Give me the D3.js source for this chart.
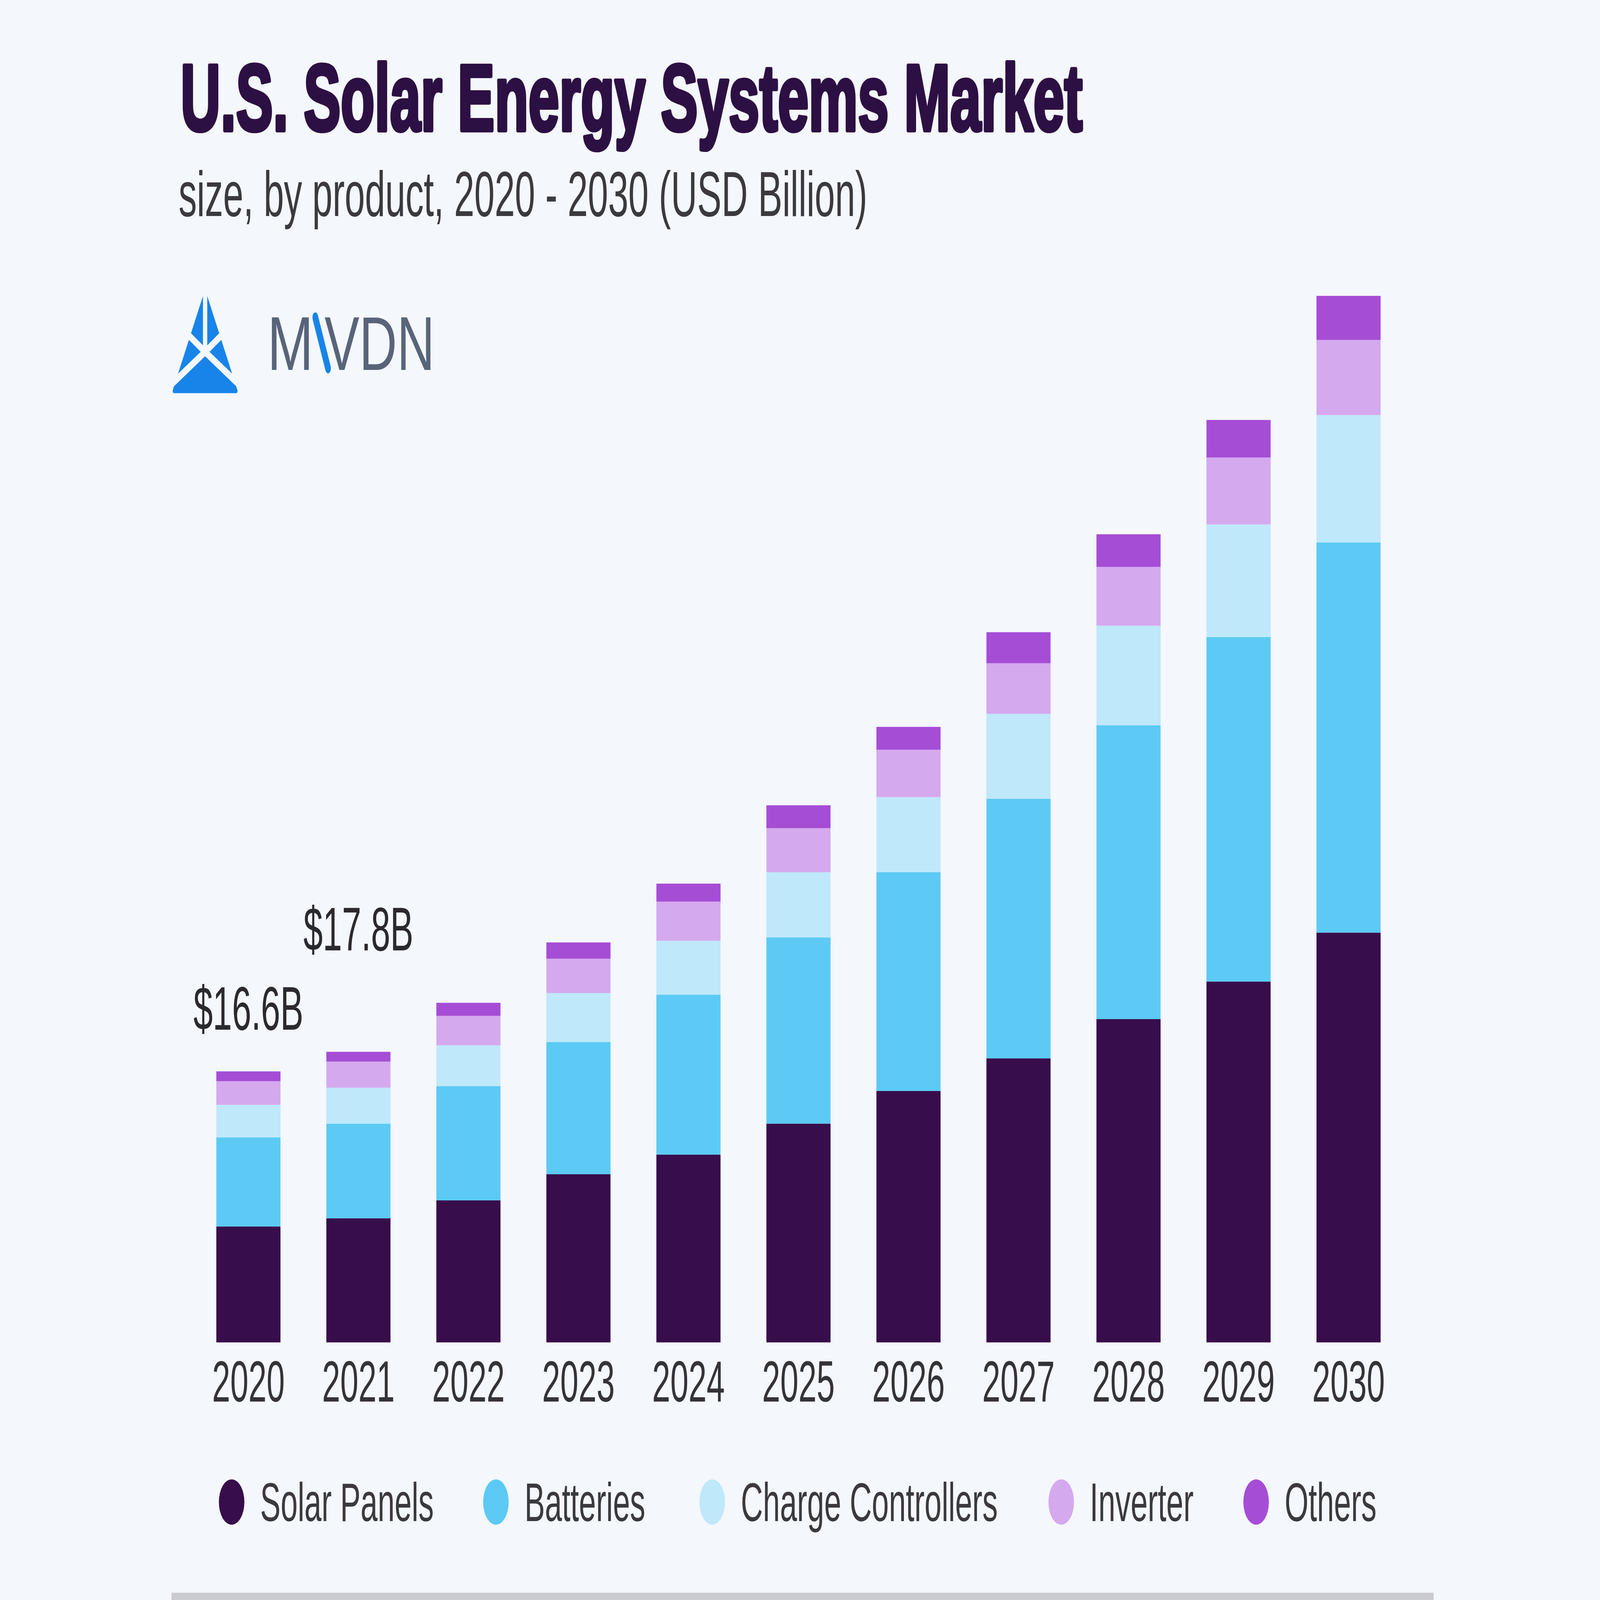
<!DOCTYPE html>
<html>
<head>
<meta charset="utf-8">
<script src="https://cdn.jsdelivr.net/npm/d3@7"></script>
<style>
  html, body { margin: 0; padding: 0; width: 100%; height: 100%; background: #f4f7fc; overflow: hidden; }
  #chart { width: 100vw; height: 100vh; }
  svg { display: block; }
</style>
</head>
<body>
<div id="chart"></div>
<script>
// values, USD billion
const years = ['2020', '2021', '2022', '2023', '2024', '2025', '2026', '2027', '2028', '2029', '2030'];
const products = ['Solar Panels', 'Batteries', 'Charge Controllers', 'Inverter', 'Others'];
const solarPanels = [7.1, 7.6, 8.7, 10.3, 11.5, 13.4, 15.4, 17.4, 19.8, 22.1, 25.1];
const batteries = [5.45, 5.8, 7.0, 8.1, 9.8, 11.4, 13.4, 15.9, 18.0, 21.1, 23.9];
const chargeControllers = [2.0, 2.2, 2.5, 3.0, 3.3, 4.0, 4.6, 5.2, 6.1, 6.9, 7.8];
const inverter = [1.45, 1.6, 1.8, 2.1, 2.4, 2.7, 2.9, 3.1, 3.6, 4.1, 4.6];
const others = [0.6, 0.6, 0.8, 1.0, 1.1, 1.4, 1.4, 1.9, 2.0, 2.3, 2.7];
const productColors = ['#380d4b', '#5ccaf4', '#bfe8fa', '#d5a9ee', '#a64dd6'];
const callouts = [{ year: '2020', text: '$16.6B', lift: 23 }, { year: '2021', text: '$17.8B', lift: 56 }];

const W = 1568, H = 882;
const bg = '#f4f7fc';
const svg = d3.select('#chart').append('svg')
    .attr('width', '100%')
    .attr('height', '100%')
    .attr('viewBox', `0 0 ${W} ${H}`)
    .attr('preserveAspectRatio', 'none');

svg.append('rect').attr('width', W).attr('height', H).attr('fill', bg);
// card shadow at the bottom
svg.append('rect').attr('x', 168).attr('y', 878).attr('width', 1237).attr('height', 4).attr('fill', '#cacbd0');

const font = "'Liberation Sans', Arial, sans-serif";

svg.append('text')
    .attr('x', 177).attr('y', 72)
    .attr('font-family', font).attr('font-weight', 900).attr('font-size', 52)
    .attr('fill', '#2d1043').attr('stroke', '#2d1043').attr('stroke-width', 2.2)
    .attr('stroke-linejoin', 'round')
    .attr('textLength', 884).attr('lengthAdjust', 'spacingAndGlyphs')
    .text('U.S. Solar Energy Systems Market');

svg.append('text')
    .attr('x', 175).attr('y', 119)
    .attr('font-family', font).attr('font-size', 35)
    .attr('fill', '#3a3a3e')
    .attr('textLength', 675).attr('lengthAdjust', 'spacingAndGlyphs')
    .text('size, by product, 2020 - 2030 (USD Billion)');

// logo: blue triangle split by five spokes, then the word mark
let logo = svg.append('g');
logo.append('path')
    .attr('d', 'M201,162 L231.5,215.5 L170.5,215.5 Z')
    .attr('fill', '#1884e9').attr('stroke', '#1884e9')
    .attr('stroke-width', 2.5).attr('stroke-linejoin', 'round');
logo.append('path')
    .attr('d', 'M201,194 L201,156 M201,194 L180,182 M201,194 L222,182 M201,194 L166,213 M201,194 L236,213')
    .attr('stroke', bg).attr('stroke-width', 4.2).attr('stroke-linecap', 'round');
logo.append('text')
    .attr('x', 262).attr('y', 204)
    .attr('font-family', font).attr('font-size', 42)
    .attr('fill', '#586479')
    .attr('textLength', 45).attr('lengthAdjust', 'spacingAndGlyphs')
    .text('M');
logo.append('path').attr('d', 'M309,175 L321.5,203').attr('stroke', '#1884e9').attr('stroke-width', 5.6).attr('stroke-linecap', 'round');
logo.append('text')
    .attr('x', 318).attr('y', 204)
    .attr('font-family', font).attr('font-size', 42)
    .attr('fill', '#586479')
    .attr('textLength', 108).attr('lengthAdjust', 'spacingAndGlyphs')
    .text('VDN');

// stacked bars
const table = years.map((y, i) => ({
    year: y,
    'Solar Panels': solarPanels[i],
    'Batteries': batteries[i],
    'Charge Controllers': chargeControllers[i],
    'Inverter': inverter[i],
    'Others': others[i]
}));
const stacked = d3.stack().keys(products)(table);

const x = d3.scaleBand().domain(years).range([212, 1353]).paddingInner(0.417).paddingOuter(0);
const y = d3.scaleLinear().domain([0, 70]).range([740, 110]);
const color = d3.scaleOrdinal().domain(products).range(productColors);

svg.append('g').selectAll('g')
    .data(stacked)
    .enter().append('g')
    .attr('fill', d => color(d.key))
    .selectAll('rect')
    .data(d => d)
    .enter().append('rect')
    .attr('x', d => x(d.data.year))
    .attr('y', d => y(d[1]))
    .attr('width', x.bandwidth())
    .attr('height', d => y(d[0]) - y(d[1]));

// year axis
const xAxis = svg.append('g')
    .attr('transform', 'translate(0,740)')
    .call(d3.axisBottom(x).tickSize(0).tickPadding(10));
xAxis.select('.domain').remove();
xAxis.selectAll('text')
    .attr('font-family', font).attr('font-size', 32)
    .attr('fill', '#333338')
    .attr('dy', '0.71em')
    .attr('y', 10);

// value callouts
const totals = table.map(d => d3.sum(products, k => d[k]));
svg.append('g').selectAll('text')
    .data(callouts)
    .enter().append('text')
    .attr('x', d => x(d.year) + x.bandwidth() / 2)
    .attr('y', d => y(totals[years.indexOf(d.year)]) - d.lift)
    .attr('text-anchor', 'middle')
    .attr('font-family', font).attr('font-size', 34)
    .attr('fill', '#2a2a2e')
    .text(d => d.text);

// legend
const legendX = [227, 486, 698, 1040, 1231];
let legend = svg.append('g').selectAll('g')
    .data(products)
    .enter().append('g')
    .attr('transform', (d, i) => `translate(${legendX[i]},828)`);
legend.append('circle').attr('r', 12.5).attr('fill', d => color(d));
legend.append('text')
    .attr('x', 28).attr('dy', '0.35em')
    .attr('font-family', font).attr('font-size', 30)
    .attr('fill', '#3a3a3e')
    .text(d => d);
</script>
</body>
</html>
